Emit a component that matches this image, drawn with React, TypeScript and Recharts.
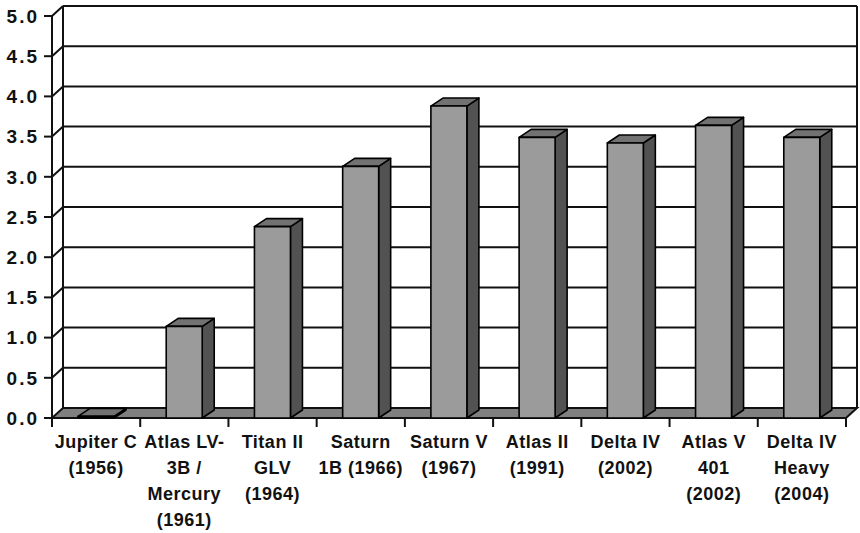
import { BarChart, Bar, XAxis, YAxis, CartesianGrid } from "recharts";

const categories = [
  "Jupiter C\n(1956)",
  "Atlas LV-\n3B /\nMercury\n(1961)",
  "Titan II\nGLV\n(1964)",
  "Saturn\n1B (1966)",
  "Saturn V\n(1967)",
  "Atlas II\n(1991)",
  "Delta IV\n(2002)",
  "Atlas V\n401\n(2002)",
  "Delta IV\nHeavy\n(2004)",
];
const values = [0.02, 1.14, 2.38, 3.13, 3.88, 3.49, 3.42, 3.64, 3.49];
const yTicks = [0, 0.5, 1, 1.5, 2, 2.5, 3, 3.5, 4, 4.5, 5];

const data = categories.map((name, i) => ({ name, value: values[i] }));

const W = 860;
const H = 533;
const X_HEIGHT = 115;
const MARGIN = { top: 16, right: 14, bottom: 0, left: 0 };
const Y_WIDTH = 52;
const BOTTOM = H - X_HEIGHT;
const BAND = (W - MARGIN.right - Y_WIDTH) / categories.length;

// wall depth and bar depth
const DX = 11;
const DY = 10;
const BDX = 12;
const BDY = 8;

const LINE = "#111";
const SW = 2;
const FONT = "'Liberation Sans', Arial, sans-serif";

function GridRow(props: any) {
  const { x1, y1, x2 } = props;
  if (y1 >= BOTTOM - 0.5) {
    return (
      <polygon
        points={`${x1},${y1} ${x2},${y1} ${x2 + DX},${y1 - DY} ${x1 + DX},${y1 - DY}`}
        fill="#808080"
        stroke={LINE}
        strokeWidth={SW}
      />
    );
  }
  return (
    <g>
      <line x1={x1} y1={y1} x2={x1 + DX} y2={y1 - DY} stroke={LINE} strokeWidth={SW} />
      <line x1={x1 + DX} y1={y1 - DY} x2={x2 + DX} y2={y1 - DY} stroke={LINE} strokeWidth={SW} />
    </g>
  );
}

function GridCol(props: any) {
  const { x1, y1, y2 } = props;
  return <line x1={x1 + DX} y1={y1 - DY} x2={x1 + DX} y2={y2 - DY} stroke={LINE} strokeWidth={SW} />;
}

function Bar3D(props: any) {
  const { x, y, width, height } = props;
  const w = width;
  const h = height;
  return (
    <g stroke="#000" strokeWidth={1.6} strokeLinejoin="round">
      <polygon
        points={`${x + w},${y} ${x + w + BDX},${y - BDY} ${x + w + BDX},${y + h - BDY} ${x + w},${y + h}`}
        fill="#525252"
      />
      <polygon
        points={`${x},${y} ${x + w},${y} ${x + w + BDX},${y - BDY} ${x + BDX},${y - BDY}`}
        fill="#727272"
      />
      <rect x={x} y={y} width={w} height={h} fill="#9b9b9b" />
    </g>
  );
}

function XTick(props: any) {
  const { x, y, payload, index } = props;
  const lines = String(payload.value).split("\n");
  const right = x + BAND / 2;
  const left = x - BAND / 2;
  return (
    <g>
      {index === 0 && <line x1={left} y1={y} x2={left} y2={y + 9} stroke={LINE} strokeWidth={SW} />}
      <line x1={right} y1={y} x2={right} y2={y + 9} stroke={LINE} strokeWidth={SW} />
      <text
        x={x}
        y={y + 30}
        textAnchor="middle"
        fill="#111"
        fontSize={18}
        fontWeight="bold"
        letterSpacing={0.5}
        fontFamily={FONT}
      >
        {lines.map((l, i) => (
          <tspan key={i} x={x} dy={i === 0 ? 0 : 26}>
            {l}
          </tspan>
        ))}
      </text>
    </g>
  );
}

export default function App() {
  return (
    <div style={{ position: "absolute", left: 0, top: 0, background: "#fff" }}>
      <BarChart width={W} height={H} data={data} margin={MARGIN} barSize={36}>
        <CartesianGrid
          horizontal={GridRow}
          vertical={GridCol}
          verticalCoordinatesGenerator={({ offset }: any) => [offset.left, offset.left + offset.width]}
        />
        <XAxis
          dataKey="name"
          interval={0}
          height={X_HEIGHT}
          tickLine={false}
          axisLine={false}
          tickSize={0}
          tickMargin={0}
          tick={XTick}
        />
        <YAxis
          type="number"
          domain={[0, 5]}
          ticks={yTicks}
          interval={0}
          width={Y_WIDTH}
          tickFormatter={(v: number) => v.toFixed(1)}
          tickSize={8}
          tickMargin={5}
          axisLine={{ stroke: LINE, strokeWidth: SW }}
          tickLine={{ stroke: LINE, strokeWidth: SW }}
          tick={{ fill: "#111", fontSize: 19, fontWeight: "bold", fontFamily: FONT, letterSpacing: 2 }}
        />
        <Bar dataKey="value" shape={Bar3D} isAnimationActive={false} />
      </BarChart>
    </div>
  );
}
